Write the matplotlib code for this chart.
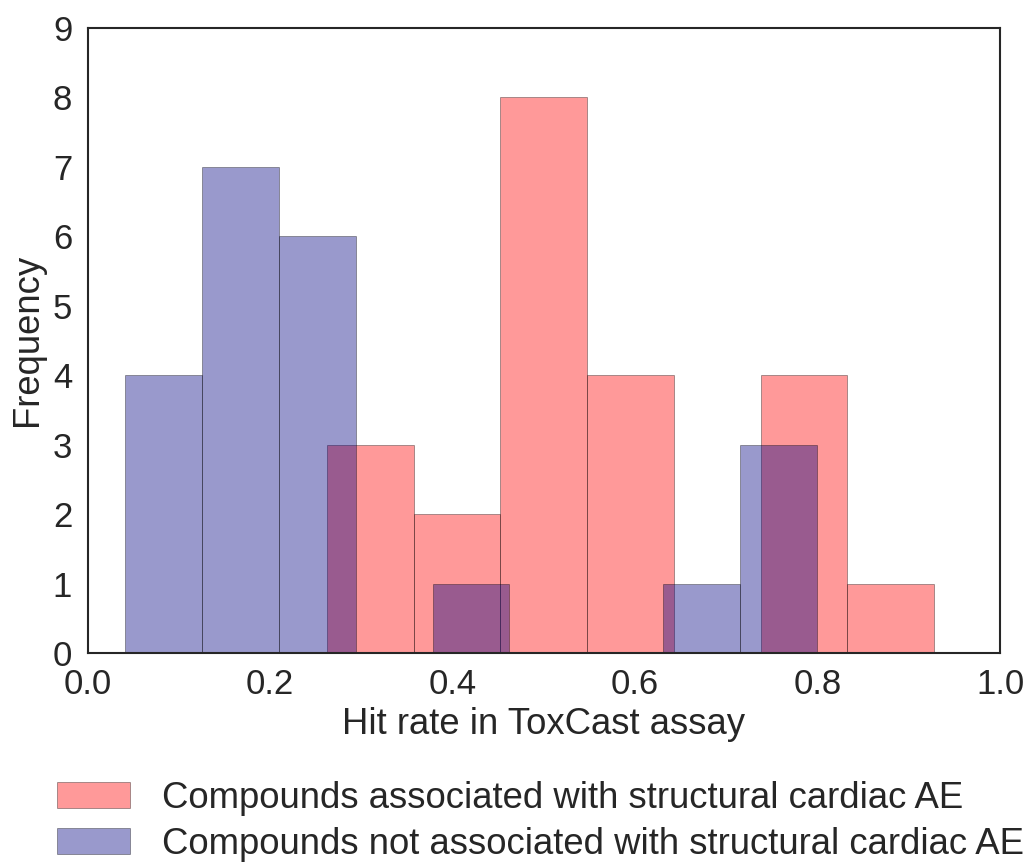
import matplotlib
matplotlib.use("Agg")
import matplotlib.pyplot as plt
import numpy as np

# histogram bins
assoc_edges = np.linspace(0.2625, 0.9277, 8)
assoc_counts = [3, 2, 8, 4, 0, 4, 1]

not_assoc_edges = np.linspace(0.041, 0.7995, 10)
not_assoc_counts = [4, 7, 6, 0, 1, 0, 0, 1, 3]

labels = ["Compounds associated with structural cardiac AE",
          "Compounds not associated with structural cardiac AE"]

plt.rcParams['font.family'] = ['Liberation Sans', 'DejaVu Sans']
plt.rcParams['text.color'] = '#262626'
plt.rcParams['axes.labelcolor'] = '#262626'
plt.rcParams['xtick.color'] = '#262626'
plt.rcParams['ytick.color'] = '#262626'

fs = 26.3

fig = plt.figure(figsize=(10.32, 8.65), dpi=100)
ax = fig.add_axes([0.0848, 0.245, 0.8842, 0.723])

ax.bar(assoc_edges[:-1], assoc_counts, width=np.diff(assoc_edges), align='edge',
       color='red', alpha=0.4, edgecolor='black', linewidth=0.6, label=labels[0])
ax.bar(not_assoc_edges[:-1], not_assoc_counts, width=np.diff(not_assoc_edges), align='edge',
       color='navy', alpha=0.4, edgecolor='black', linewidth=0.6, label=labels[1])

ax.set_xlim(0, 1)
ax.set_ylim(0, 9)
ax.set_xticks(np.arange(0, 1.01, 0.2))
ax.set_yticks(range(10))
ax.tick_params(labelsize=25, length=0, pad=11)
for s in ax.spines.values():
    s.set_color('#262626')
    s.set_linewidth(1.5)

ax.set_xlabel("Hit rate in ToxCast assay", fontsize=fs, labelpad=4)
ax.set_ylabel("Frequency", fontsize=fs, labelpad=6)

fig.legend(loc='upper left', bbox_to_anchor=(0.03, 0.127), fontsize=fs,
           frameon=False, handlelength=2.0, labelspacing=0.3, handletextpad=0.9,
           borderpad=0.2)

fig.savefig("out.png", dpi=100)
